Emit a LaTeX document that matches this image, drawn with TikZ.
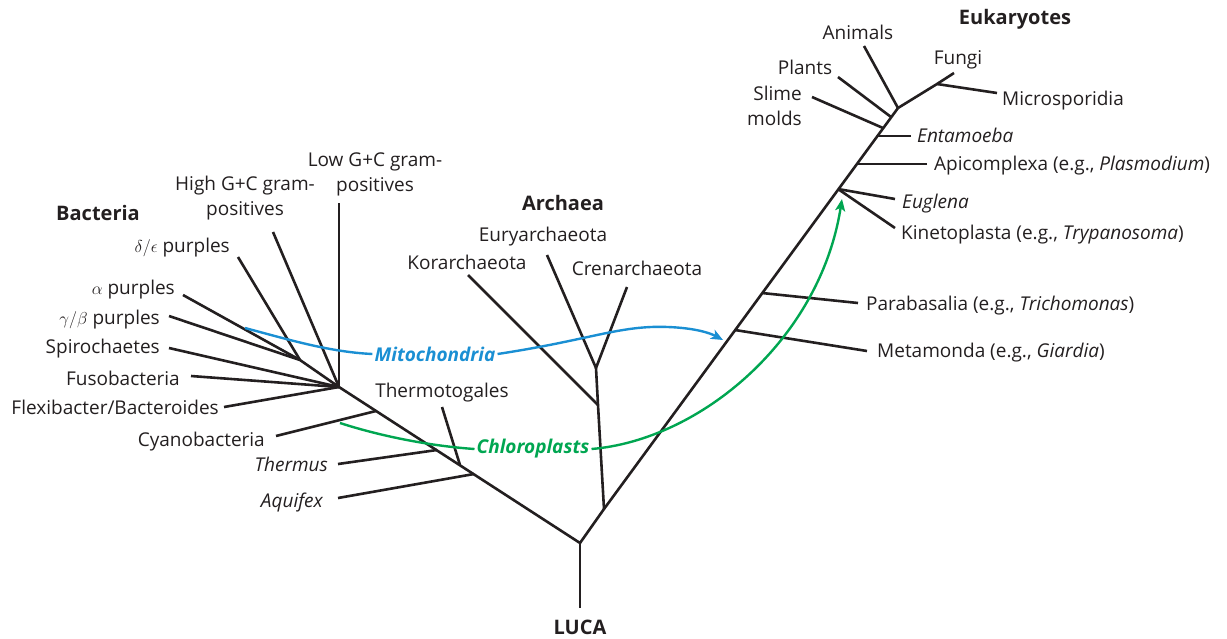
\documentclass[tikz,border=0pt]{standalone}
\usepackage{fontspec}
\setmainfont{Open Sans}
\usetikzlibrary{arrows.meta}
\definecolor{InkGray}{HTML}{231F20}
\definecolor{MitoBlue}{HTML}{1A8FD3}
\definecolor{PlastGreen}{HTML}{00A651}

\begin{document}
\begin{tikzpicture}[x=1pt,y=-1pt,
  every node/.style={font=\fontsize{19}{25}\selectfont, text=InkGray, inner sep=0pt},
  title/.style={font=\fontsize{20}{25}\selectfont\bfseries},
  branch/.style={line width=2.6pt, draw=InkGray, line join=round},
  endo/.style={font=\fontsize{19}{25}\selectfont\bfseries\itshape, inner sep=2pt},
  transfer/.style={line width=2.4pt, -{Stealth[length=12pt,width=10pt,inset=3pt]}}]
  \useasboundingbox (0,0) rectangle (1227,638);

  \coordinate (lucaEnd) at (580,608);
  \coordinate (root) at (580,543);
  \coordinate (splitAE) at (604,509);
  \coordinate (bacHub) at (339,387);
  \coordinate (eukTop) at (898,108);

  \coordinate (cyanoJ) at (376,411);
  \coordinate (thermusJ) at (437,450);
  \coordinate (togaJ) at (460,465);
  \coordinate (aquiJ) at (474,474);
  \coordinate (proteoJ) at (300,360);
  \coordinate (tipLowGC) at (339,203);
  \coordinate (tipHighGC) at (273,232);
  \coordinate (tipDelEps) at (238,257);
  \coordinate (tipAlpha) at (183,295);
  \coordinate (tipGamBet) at (169,316);
  \coordinate (tipSpiro) at (169,348);
  \coordinate (tipFuso) at (191,376);
  \coordinate (tipFlexi) at (224,407);
  \coordinate (tipCyano) at (276,436);
  \coordinate (tipThermus) at (338,464);
  \coordinate (tipAquifex) at (338,498);
  \coordinate (tipToga) at (442,407);

  \coordinate (arcA) at (598,405);
  \coordinate (arcB) at (596,368);
  \coordinate (tipKor) at (468,275);
  \coordinate (tipEury) at (547,255);
  \coordinate (tipCren) at (627,287);

  \coordinate (metaJ) at (735,330);
  \coordinate (paraJ) at (762,293);
  \coordinate (eugJ) at (838,189);
  \coordinate (apiJ) at (857,164);
  \coordinate (entJ) at (877,136);
  \coordinate (slimeJ) at (883,128);
  \coordinate (plantJ) at (891,117);
  \coordinate (fungiJ) at (937,84);
  \coordinate (tipMeta) at (867,351);
  \coordinate (tipPara) at (858,303);
  \coordinate (tipEug) at (895,199);
  \coordinate (tipKin) at (895,228);
  \coordinate (tipApi) at (927,164);
  \coordinate (tipEnt) at (911,136);
  \coordinate (tipSlime) at (812,97);
  \coordinate (tipPlants) at (838,77);
  \coordinate (tipAnimals) at (864,46);
  \coordinate (tipFungi) at (954,73);
  \coordinate (tipMicro) at (997,93);

  \draw[branch] (bacHub) -- (root) -- (splitAE) -- (eukTop);
  \draw[branch] (root) -- (lucaEnd);
  \draw[branch] (splitAE) -- (arcA) -- (arcB);
  \draw[branch] (eukTop) -- (fungiJ) -- (tipFungi);
  \foreach \tip/\joint in {tipLowGC/bacHub, tipHighGC/bacHub, proteoJ/bacHub,
      tipDelEps/proteoJ, tipAlpha/proteoJ, tipGamBet/proteoJ, tipSpiro/bacHub,
      tipFuso/bacHub, tipFlexi/bacHub, tipCyano/cyanoJ, tipThermus/thermusJ,
      tipAquifex/aquiJ, tipToga/togaJ, tipKor/arcA, tipEury/arcB, tipCren/arcB,
      tipMeta/metaJ, tipPara/paraJ, tipEug/eugJ, tipKin/eugJ, tipApi/apiJ,
      tipEnt/entJ, tipSlime/slimeJ, tipPlants/plantJ, tipAnimals/eukTop,
      tipMicro/fungiJ}
    \draw[branch] (\tip) -- (\joint);

  \node[title] (bacteria) at (98,213) {Bacteria};
  \node[align=center] (lowgc) at (375,174) {Low G+C gram-\\positives};
  \node[align=center] (highgc) at (245,198) {High G+C gram-\\positives};
  \node[anchor=mid east] (deleps) at (230,250) {$\delta/\epsilon$ purples};
  \node[anchor=mid east] (alpha) at (175,292) {$\alpha$ purples};
  \node[anchor=mid east] (gambet) at (160,322) {$\gamma/\beta$ purples};
  \node[anchor=mid east] (spiro) at (160,351) {Spirochaetes};
  \node[anchor=mid east] (fuso) at (180,383) {Fusobacteria};
  \node[anchor=mid east] (flexi) at (219,412) {Flexibacter/Bacteroides};
  \node[anchor=mid east] (cyano) at (265,444) {Cyanobacteria};
  \node[anchor=mid east, font=\fontsize{19}{25}\selectfont\itshape] (thermus) at (328,469) {Thermus};
  \node[anchor=mid east, font=\fontsize{19}{25}\selectfont\itshape] (aquifex) at (323,505) {Aquifex};
  \node (toga) at (442,393) {Thermotogales};

  \node[title] (archaea) at (563,203) {Archaea};
  \node (eury) at (543,237) {Euryarchaeota};
  \node (kor) at (467,262) {Korarchaeota};
  \node (cren) at (637,268) {Crenarchaeota};
  \node[title] (luca) at (580,627) {LUCA};

  \node[title] (eukaryotes) at (1015,19) {Eukaryotes};
  \node (animals) at (858,32) {Animals};
  \node (plants) at (805,67) {Plants};
  \node[anchor=east, align=right] (slime) at (802,106) {Slime\\molds};
  \node (fungi) at (958,60) {Fungi};
  \node[anchor=mid west] (micro) at (1002,103) {Microsporidia};
  \node[anchor=mid west, font=\fontsize{19}{25}\selectfont\itshape] (ent) at (917,140) {Entamoeba};
  \node[anchor=mid west] (api) at (934,168) {Apicomplexa (e.g., \textit{Plasmodium})};
  \node[anchor=mid west, font=\fontsize{19}{25}\selectfont\itshape] (eug) at (902,206) {Euglena};
  \node[anchor=mid west] (kin) at (901,237) {Kinetoplasta (e.g., \textit{Trypanosoma})};
  \node[anchor=mid west] (para) at (866,308) {Parabasalia (e.g., \textit{Trichomonas})};
  \node[anchor=mid west] (meta) at (877,355) {Metamonda (e.g., \textit{Giardia})};

  \coordinate (mitoStart) at (245,328);
  \coordinate (mitoEnd) at (723,340);
  \node[endo, text=MitoBlue] (mito) at (435,354) {Mitochondria};
  \draw[line width=2.4pt, MitoBlue] (mitoStart) .. controls (290,340) and (330,352) .. (mito.west);
  \draw[transfer, MitoBlue] (mito.east) .. controls (590,340) and (620,325) .. (668,327)
    .. controls (695,328) and (710,333) .. (mitoEnd);

  \coordinate (plastStart) at (340,423);
  \coordinate (plastEnd) at (842,199);
  \node[endo, text=PlastGreen] (chloro) at (533,449) {Chloroplasts};
  \draw[line width=2.4pt, PlastGreen] (plastStart) .. controls (380,436) and (430,446) .. (chloro.west);
  \draw[transfer, PlastGreen] (chloro.east) .. controls (700,440) and (820,340) .. (plastEnd);
\end{tikzpicture}
\end{document}
